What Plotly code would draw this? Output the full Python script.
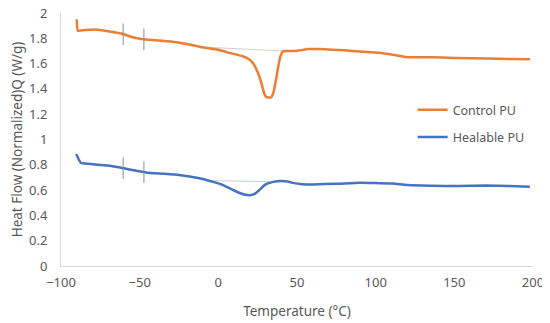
import plotly.graph_objects as go

# Control PU
ctrl_T = [-90, -89.3, -85, -78, -70, -60, -55, -48, -40, -29, -20, -12, 0, 7, 15, 19.5, 22, 24, 26, 27.5,
          29, 30.5, 33.5, 35, 36.5, 38, 39.5, 41, 43, 48, 52, 57, 65, 80, 90, 102, 111, 118, 122, 135,
          150, 170, 185, 198]
ctrl_Q = [1.95, 1.86, 1.865, 1.87, 1.855, 1.832, 1.81, 1.792, 1.785, 1.773, 1.755, 1.733, 1.71, 1.685,
          1.66, 1.635, 1.605, 1.56, 1.50, 1.44, 1.37, 1.335, 1.332, 1.37, 1.46, 1.57, 1.66, 1.695, 1.70,
          1.70, 1.705, 1.715, 1.715, 1.705, 1.695, 1.686, 1.67, 1.655, 1.65, 1.65, 1.645, 1.64, 1.637, 1.634]

# Healable PU
heal_T = [-90.3, -89, -87.5, -85, -76, -68, -60, -53, -46, -35, -25, -12, -4, 3, 7, 12, 17, 20, 23, 26,
          30, 35, 40, 44, 48, 53, 60, 75, 90, 102, 111, 120, 135, 153, 170, 185, 198]
heal_Q = [0.885, 0.85, 0.817, 0.81, 0.80, 0.79, 0.772, 0.755, 0.74, 0.73, 0.72, 0.693, 0.667, 0.64, 0.615,
          0.585, 0.563, 0.56, 0.57, 0.60, 0.645, 0.665, 0.672, 0.668, 0.655, 0.647, 0.645, 0.65, 0.658,
          0.655, 0.652, 0.64, 0.635, 0.632, 0.636, 0.632, 0.627]

# Tg onset / end markers (temperature, heat flow at curve)
mark_T = [-60.5, -47.3]
ctrl_mark_Q = [1.832, 1.792]
heal_mark_Q = [0.772, 0.742]
mark_half = 0.085

# Extrapolated baselines
ctrl_base_T = [-5, 41]
ctrl_base_Q = [1.728, 1.70]
heal_base_T = [-5, 33]
heal_base_Q = [0.675, 0.667]

orange = "#ED7D31"
blue = "#4472C4"
grey_txt = "#595959"
font = "Noto Sans"

fig = go.Figure()
fig.add_trace(go.Scatter(x=ctrl_base_T, y=ctrl_base_Q, mode="lines", line=dict(color="#d8cfc4", width=1),
                         showlegend=False, hoverinfo="skip"))
fig.add_trace(go.Scatter(x=heal_base_T, y=heal_base_Q, mode="lines", line=dict(color="#c8cfd8", width=1),
                         showlegend=False, hoverinfo="skip"))
fig.add_trace(go.Scatter(x=ctrl_T, y=ctrl_Q, mode="lines", name="Control PU", legendgroup="a",
                         line=dict(color=orange, width=2.5, shape="spline", smoothing=0.4)))
fig.add_trace(go.Scatter(x=heal_T, y=heal_Q, mode="lines", name="Healable PU", legendgroup="b",
                         line=dict(color=blue, width=2.5, shape="spline", smoothing=0.4)))

mx, my = [], []
for t, q in list(zip(mark_T, ctrl_mark_Q)) + list(zip(mark_T, heal_mark_Q)):
    mx += [t, t, None]
    my += [q - mark_half, q + mark_half, None]
fig.add_trace(go.Scatter(x=mx, y=my, mode="lines", line=dict(color="#8c8c8c", width=1),
                         showlegend=False, hoverinfo="skip"))

fig.update_layout(
    width=542, height=315,
    margin=dict(l=53, r=17, t=5, b=57),
    paper_bgcolor="white", plot_bgcolor="white",
    font=dict(family=font, size=13, color=grey_txt),
    legend=dict(x=0.745, y=0.675, xanchor="left", yanchor="top", tracegroupgap=8,
                font=dict(size=12.5, color=grey_txt), bgcolor="rgba(0,0,0,0)"),
    xaxis=dict(range=[-100, 200], tickvals=[-100, -50, 0, 50, 100, 150, 200], showgrid=False,
               zeroline=False, showline=True, linecolor="#d9d9d9", linewidth=1, ticks="",
               ticklabelstandoff=4, automargin=False, ticklabeloverflow="allow",
               title=dict(text="Temperature (°C)", font=dict(size=13.5, color=grey_txt), standoff=16),
               tickfont=dict(size=13, color=grey_txt)),
    yaxis=dict(range=[0, 2], tickvals=[0, 0.2, 0.4, 0.6, 0.8, 1, 1.2, 1.4, 1.6, 1.8, 2], showgrid=False,
               zeroline=False, showline=True, linecolor="#d9d9d9", linewidth=1, ticks="",
               ticklabelstandoff=10, automargin=False, ticklabeloverflow="allow",
               title=dict(text="Heat Flow (Normalized)Q (W/g)", font=dict(size=13.5, color=grey_txt), standoff=4),
               tickfont=dict(size=13, color=grey_txt)),
)
fig.write_html("out.html")
